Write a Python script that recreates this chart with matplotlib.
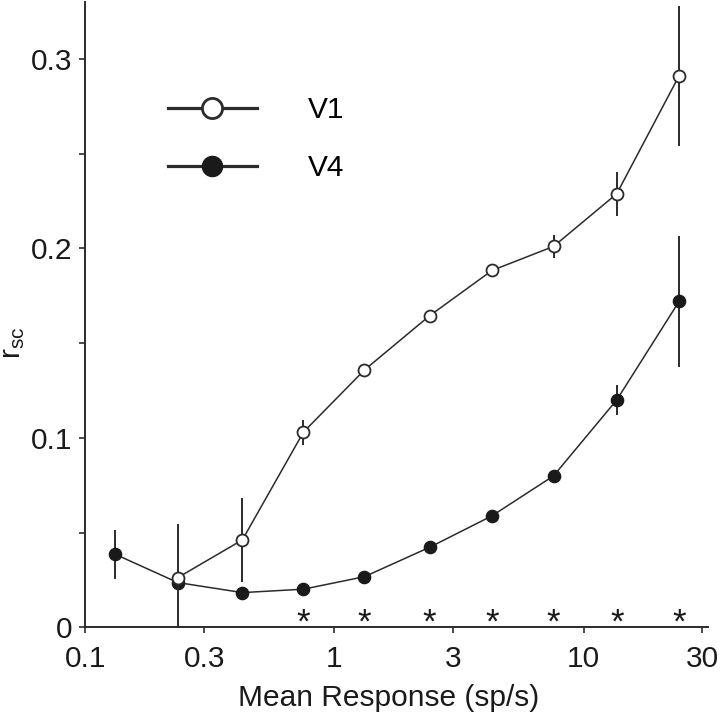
import matplotlib
matplotlib.use("Agg")
import matplotlib.pyplot as plt
from matplotlib.lines import Line2D
from matplotlib.ticker import FixedLocator, NullLocator

plt.rcParams["font.family"] = ["Liberation Sans", "DejaVu Sans"]

# mean response bins (sp/s)
resp = [0.132, 0.235, 0.427, 0.751, 1.32, 2.41, 4.29, 7.58, 13.6, 24.2]

v4_rsc = [0.0385, 0.0236, 0.0183, 0.0201, 0.0267, 0.0422, 0.0588, 0.0799, 0.120, 0.172]
v4_err = [0.013, 0.003, 0.002, 0.002, 0.002, 0.002, 0.002, 0.002, 0.008, 0.0345]

v1_resp = resp[1:]
v1_rsc = [0.0262, 0.0461, 0.103, 0.1358, 0.1644, 0.1883, 0.201, 0.2288, 0.2911]
v1_err = [0.0285, 0.022, 0.0066, 0.003, 0.002, 0.003, 0.006, 0.0115, 0.037]

# bins where V1 and V4 differ significantly
sig_resp = resp[3:]

xticks = [0.1, 0.3, 1, 3, 10, 30]
xtick_labels = ["0.1", "0.3", "1", "3", "10", "30"]
yticks = [0, 0.1, 0.2, 0.3]
ytick_labels = ["0", "0.1", "0.2", "0.3"]

ink = "#2b2b2b"
fs = 21.5

fig = plt.figure(figsize=(7.2, 7.15), dpi=100)
ax = fig.add_axes([0.1185, 0.1227, 0.8648, 0.8745])

ax.errorbar(resp, v4_rsc, yerr=v4_err, color=ink, lw=1.1, elinewidth=1.4,
            marker="o", ms=8.8, mfc="#1a1a1a", mec="#1a1a1a", capsize=0, zorder=2)
ax.errorbar(v1_resp, v1_rsc, yerr=v1_err, color=ink, lw=1.1, elinewidth=1.4,
            marker="o", ms=8.6, mfc="white", mec=ink, mew=1.3, capsize=0, zorder=3)

for x in sig_resp:
    ax.text(x, -0.003, "*", ha="center", va="baseline", fontsize=25, color="#1a1a1a")

ax.set_xscale("log")
ax.set_xlim(0.1, 31.6)
ax.set_ylim(0, 0.33)

ax.xaxis.set_major_locator(FixedLocator(xticks))
ax.xaxis.set_minor_locator(NullLocator())
ax.set_xticklabels(xtick_labels)
ax.set_yticks(yticks)
ax.set_yticklabels(ytick_labels)
ax.yaxis.set_minor_locator(FixedLocator([0.05, 0.15, 0.25]))

ax.tick_params(axis="both", which="both", direction="out", length=4.5, width=1.2,
               color=ink, labelsize=fs, labelcolor="#1a1a1a")
ax.tick_params(axis="x", pad=8)
ax.tick_params(axis="y", pad=5)

for side in ["top", "right"]:
    ax.spines[side].set_visible(False)
for side in ["left", "bottom"]:
    ax.spines[side].set_color(ink)
    ax.spines[side].set_linewidth(1.4)

ax.set_xlabel("Mean Response (sp/s)", fontsize=fs, color="#1a1a1a", labelpad=8)
ax.xaxis.label.set_x(0.487)
ax.set_ylabel(r"$\mathregular{r_{sc}}$", fontsize=fs, color="#1a1a1a")
ax.yaxis.set_label_coords(-0.093, 0.455)

handles = [
    Line2D([], [], color=ink, lw=2.3, marker="o", ms=14.5, mfc="white", mec=ink, mew=2.0),
    Line2D([], [], color=ink, lw=2.3, marker="o", ms=14.5, mfc="#1a1a1a", mec="#1a1a1a"),
]
ax.legend(handles, ["V1", "V4"], loc="upper left", bbox_to_anchor=(0.132, 0.849),
          frameon=False, fontsize=fs, handlelength=3.0, handletextpad=1.7,
          labelspacing=1.0, borderpad=0, borderaxespad=0)

fig.savefig("out.png", dpi=100)
